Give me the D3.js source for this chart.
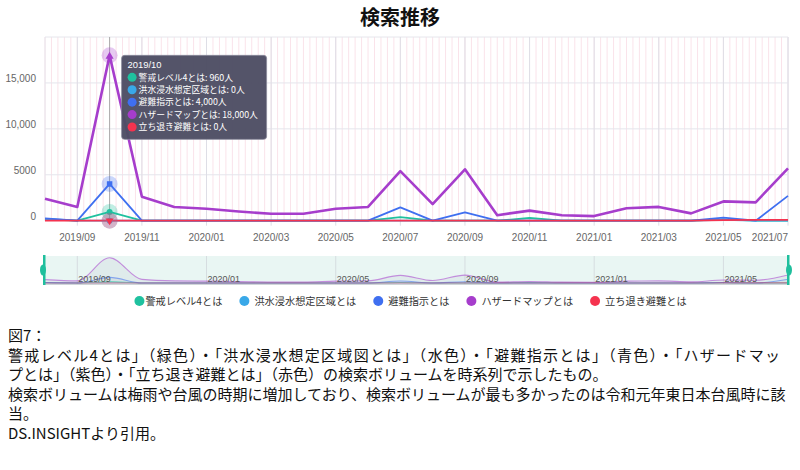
<!DOCTYPE html>
<html><head><meta charset="utf-8">
<script src="https://cdn.jsdelivr.net/npm/d3@7"></script>
<style>
body{margin:0;background:#fff;}
svg{display:block;}
</style></head>
<body>
<svg id="chart" width="800" height="470"></svg>
<script>
// ---------- data ----------
const months = ["2019/08","2019/09","2019/10","2019/11","2019/12","2020/01","2020/02","2020/03","2020/04","2020/05","2020/06","2020/07","2020/08","2020/09","2020/10","2020/11","2020/12","2021/01","2021/02","2021/03","2021/04","2021/05","2021/06","2021/07"];
const seriesNames = ["警戒レベル4とは","洪水浸水想定区域とは","避難指示とは","ハザードマップとは","立ち退き避難とは"];
const seriesColors = ["#1fc19f","#39a8e8","#3f6ff0","#a63dcc","#f5334f"];
const keikaiLevel4 = [150,0,960,0,0,0,0,0,0,0,0,400,0,0,0,300,0,0,0,0,0,150,0,0];
const kozuiShinsui = [200,0,0,0,0,0,0,0,0,0,0,0,0,0,0,0,0,0,0,0,0,100,0,0];
const hinanShiji   = [250,0,4000,0,0,0,0,0,0,0,0,1450,0,900,0,0,0,0,0,0,0,330,0,2700];
const hazardMap    = [2400,1500,18000,2600,1500,1300,1000,750,750,1300,1500,5400,1800,5600,600,1100,600,500,1350,1500,800,2100,2000,5700];
const tachinoki    = [0,0,0,0,0,0,0,0,0,0,0,0,0,0,0,0,0,0,0,0,0,60,80,100];
const xTickLabels = ["2019/09","2019/11","2020/01","2020/03","2020/05","2020/07","2020/09","2020/11","2021/01","2021/03","2021/05","2021/07"];
const yTickValues = [0,5000,10000,15000,20000];
const yTickLabels = ["0","5000","10,000","15,000",""];
const sliderTickLabels = ["2019/09","2020/01","2020/05","2020/09","2021/01","2021/05"];
const focusMonth = "2019/10";
const symbolsByIndex = [d3.symbolCircle, d3.symbolCircle, d3.symbolSquare, d3.symbolTriangle, d3.symbolTriangle];
const titleText = "検索推移";
const captionLines = [
  "図7：",
  "警戒レベル4とは」（緑色）・「洪水浸水想定区域図とは」（水色）・「避難指示とは」（青色）・「ハザードマッ",
  "プとは」（紫色）・「立ち退き避難とは」（赤色）の検索ボリュームを時系列で示したもの。",
  "検索ボリュームは梅雨や台風の時期に増加しており、検索ボリュームが最も多かったのは令和元年東日本台風時に該",
  "当。",
  "DS.INSIGHTより引用。"
];

const seriesValues = [keikaiLevel4, kozuiShinsui, hinanShiji, hazardMap, tachinoki];
const series = seriesNames.map((n,i)=>({name:n,color:seriesColors[i],values:seriesValues[i]}));

// ---------- layout ----------
const svg = d3.select("#chart");
const FONT = "'Liberation Sans','Noto Sans CJK JP',sans-serif";
const JP = "'Noto Sans CJK JP',sans-serif";
const plot = {left:45,right:788,top:37,bottom:220.7};

const xi = d3.scaleLinear().domain([0,months.length-1]).range([plot.left,plot.right]);
const x = m => xi(months.indexOf(m));
const y = d3.scaleLinear().domain([0,20000]).range([plot.bottom,plot.top]);

// title
svg.append("text").attr("x",400).attr("y",25).attr("text-anchor","middle")
  .attr("font-family",JP).attr("font-weight","bold").attr("font-size",20).attr("fill","#111").text(titleText);

// minor pink vertical grid
const g = svg.append("g");
g.selectAll("line.minor").data(d3.range(0,months.length-1+0.001,0.2)).join("line")
  .attr("x1",d=>xi(d)).attr("x2",d=>xi(d)).attr("y1",plot.top).attr("y2",plot.bottom)
  .attr("stroke","#fae3ea").attr("stroke-width",1);

// horizontal grid
g.selectAll("line.hg").data(yTickValues).join("line")
  .attr("x1",plot.left).attr("x2",plot.right).attr("y1",d=>y(d)).attr("y2",d=>y(d))
  .attr("stroke","#e6e6ec").attr("stroke-width",1);

// major vertical grid
g.selectAll("line.vg").data(xTickLabels).join("line")
  .attr("x1",d=>x(d)).attr("x2",d=>x(d)).attr("y1",plot.top).attr("y2",plot.bottom+5)
  .attr("stroke","#dedee6").attr("stroke-width",1);
g.selectAll("line.edge").data([0,months.length-1]).join("line")
  .attr("x1",d=>xi(d)).attr("x2",d=>xi(d)).attr("y1",plot.top).attr("y2",plot.bottom)
  .attr("stroke","#e6e6ec").attr("stroke-width",1);

// y labels
g.selectAll("text.yl").data(yTickValues).join("text")
  .attr("x",plot.left-9).attr("y",d=>y(d)-1).attr("text-anchor","end")
  .attr("font-family",FONT).attr("font-size",10).attr("fill","#666")
  .text((d,i)=>yTickLabels[i]);

// x labels (last one kept inside the chart)
g.selectAll("text.xl").data(xTickLabels).join("text")
  .attr("x",(d,i)=>i===xTickLabels.length-1?plot.right:x(d)).attr("y",plot.bottom+20)
  .attr("text-anchor",(d,i)=>i===xTickLabels.length-1?"end":"middle")
  .attr("font-family",FONT).attr("font-size",10).attr("fill","#666").text(d=>d);

// axis pointer
svg.append("line").attr("x1",x(focusMonth)).attr("x2",x(focusMonth))
  .attr("y1",plot.top).attr("y2",plot.bottom).attr("stroke","#aaa").attr("stroke-width",1);

// lines
const line = d3.line().x((d,i)=>xi(i)).y(d=>y(d));
svg.append("g").selectAll("path").data(series).join("path")
  .attr("d",s=>line(s.values)).attr("fill","none")
  .attr("stroke",s=>s.color).attr("stroke-width",(s,i)=>i===3?2.6:1.8)
  .attr("stroke-linejoin","round");

// focus symbols
const fi = months.indexOf(focusMonth);
const fg = svg.append("g");
series.forEach((s,i)=>{
  const cx = x(focusMonth), cy = y(s.values[fi]);
  fg.append("circle").attr("cx",cx).attr("cy",cy).attr("r",8).attr("fill",s.color).attr("opacity",0.28);
  const sym = d3.symbol().type(symbolsByIndex[i]).size(i===2?30:28);
  fg.append("path").attr("d",sym()).attr("fill",s.color)
    .attr("transform",`translate(${cx},${cy+(i===3?1:0)})${i===4?" rotate(180)":""}`);
});

// tooltip
const tipX = x(focusMonth)+12, tipY = y(hazardMap[fi]);
const tip = svg.append("g").attr("transform",`translate(${tipX},${tipY})`);
tip.append("rect").attr("width",145).attr("height",84).attr("rx",3)
  .attr("fill","#4d4d63").attr("fill-opacity",0.96).attr("stroke","#8a8a9a").attr("stroke-width",0.8);
tip.append("text").attr("x",6).attr("y",12.5).attr("font-family",FONT).attr("font-size",9.4)
  .attr("fill","#fff").text(focusMonth);
const fmt = d3.format(",");
series.forEach((s,i)=>{
  const yy = 22 + i*12.4;
  tip.append("circle").attr("cx",10.5).attr("cy",yy).attr("r",4.5).attr("fill",s.color);
  tip.append("text").attr("x",17).attr("y",yy+3.2).attr("font-family",JP).attr("font-size",8.8)
    .attr("fill","#fff").text(`${s.name}: ${fmt(s.values[fi])}人`);
});

// ---------- slider ----------
const sl = {top:256,bottom:284};
const sy = d3.scaleLinear().domain([0,18500]).range([sl.bottom-1,sl.top+1]);
const sg = svg.append("g");
sg.append("rect").attr("x",plot.left).attr("y",sl.top).attr("width",plot.right-plot.left)
  .attr("height",sl.bottom-sl.top).attr("fill","#e9f6f3");
sg.selectAll("line.st").data(sliderTickLabels).join("line")
  .attr("x1",d=>x(d)).attr("x2",d=>x(d)).attr("y1",sl.top).attr("y2",sl.bottom)
  .attr("stroke","#d6dde0").attr("stroke-width",1);
const sArea = d3.area().x((d,i)=>xi(i)).y0(sy(0)).y1(d=>sy(d)).curve(d3.curveMonotoneX);
const sLine = d3.line().x((d,i)=>xi(i)).y(d=>sy(d)).curve(d3.curveMonotoneX);
sg.selectAll("path.sa").data(series).join("path").attr("d",s=>sArea(s.values))
  .attr("fill","#8a8aa8").attr("fill-opacity",0.1);
sg.selectAll("path.sl").data(series).join("path").attr("d",s=>sLine(s.values))
  .attr("fill","none").attr("stroke",s=>s.color).attr("stroke-opacity",0.55).attr("stroke-width",1.1);
sg.selectAll("text.stl").data(sliderTickLabels).join("text")
  .attr("x",d=>x(d)+1).attr("y",sl.bottom-2).attr("font-family",FONT).attr("font-size",9)
  .attr("fill","#555").text(d=>d);
sg.append("line").attr("x1",plot.left).attr("x2",plot.right).attr("y1",sl.bottom+0.5).attr("y2",sl.bottom+0.5)
  .attr("stroke","#cfd6d8");
// handles
[[plot.left-1,-1],[plot.right,1]].forEach(([hx,dir])=>{
  sg.append("rect").attr("x",hx-1).attr("y",sl.top-1).attr("width",2.5).attr("height",sl.bottom-sl.top+2).attr("fill","#1fbf9d");
  sg.append("ellipse").attr("cx",hx+dir*1).attr("cy",(sl.top+sl.bottom)/2).attr("rx",3).attr("ry",5.5).attr("fill","#1fbf9d");
});

// ---------- legend ----------
const lg = svg.append("g");
let lx = 0;
series.forEach((s,i)=>{
  const it = lg.append("g");
  it.append("circle").attr("cx",0).attr("cy",0).attr("r",5).attr("fill",s.color);
  const tx = i===0?6:10;
  const t = it.append("text").attr("x",tx).attr("y",3.6).attr("font-family",JP).attr("font-size",10.2)
    .attr("fill","#333").text(s.name);
  const w = tx + t.node().getComputedTextLength();
  it.attr("transform",`translate(${lx},301)`);
  lx += w + 22;
});
const totalW = lx - 22;
lg.attr("transform",`translate(${148 + (530 - totalW)/2},0)`);

// ---------- caption ----------
const cap = svg.append("g");
cap.selectAll("text").data(captionLines).join("text")
  .attr("x",8).attr("y",(d,i)=>341 + i*19.6)
  .attr("font-family",JP).attr("font-size",15).attr("fill","#111").text(d=>d)
  .each(function(d,i){ if(i===1) d3.select(this).attr("textLength",772).attr("lengthAdjust","spacing"); });
</script>
</body></html>
